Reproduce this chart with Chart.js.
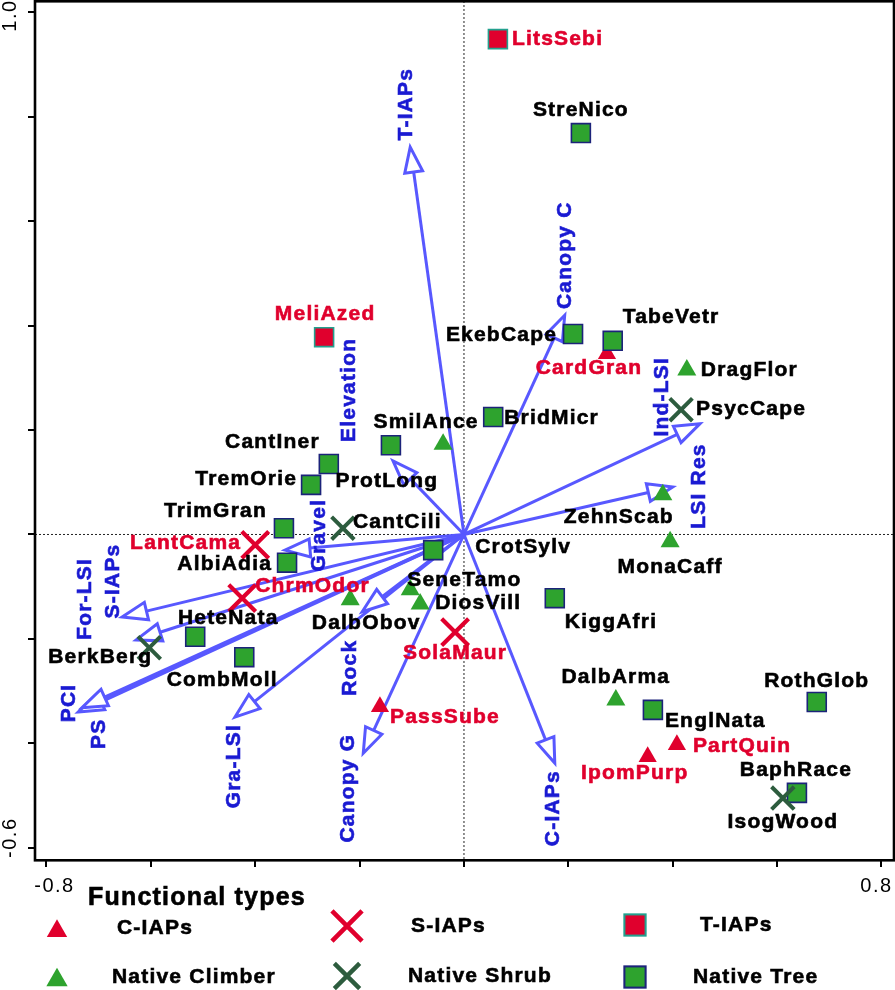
<!DOCTYPE html>
<html>
<head>
<meta charset="utf-8">
<script src="https://cdn.jsdelivr.net/npm/chart.js@4.4.1/dist/chart.umd.min.js"></script>
<style>
  html, body { margin: 0; padding: 0; background: #fff; }
  #box { width: 895px; height: 990px; position: relative; }
</style>
</head>
<body>
<div id="box"><canvas id="graf"></canvas></div>
<script>
// Species scores
const speciesNames = [
  'LitsSebi', 'MeliAzed',
  'StreNico', 'EkebCape', 'TabeVetr', 'BridMicr', 'ProtLong', 'CantIner', 'TremOrie', 'TrimGran',
  'AlbiAdia', 'CrotSylv', 'HeteNata', 'CombMoll', 'KiggAfri', 'EnglNata', 'RothGlob', 'BaphRace',
  'CantCili', 'BerkBerg', 'PsycCape', 'IsogWood',
  'SmilAnce', 'DragFlor', 'ZehnScab', 'MonaCaff', 'SeneTamo', 'DiosVill', 'DalbObov', 'DalbArma',
  'CardGran', 'PassSube', 'IpomPurp', 'PartQuin',
  'LantCama', 'ChrmOdor', 'SolaMaur'
];
const speciesType = [
  'T-IAPs', 'T-IAPs',
  'Native Tree', 'Native Tree', 'Native Tree', 'Native Tree', 'Native Tree', 'Native Tree', 'Native Tree', 'Native Tree',
  'Native Tree', 'Native Tree', 'Native Tree', 'Native Tree', 'Native Tree', 'Native Tree', 'Native Tree', 'Native Tree',
  'Native Shrub', 'Native Shrub', 'Native Shrub', 'Native Shrub',
  'Native Climber', 'Native Climber', 'Native Climber', 'Native Climber', 'Native Climber', 'Native Climber', 'Native Climber', 'Native Climber',
  'C-IAPs', 'C-IAPs', 'C-IAPs', 'C-IAPs',
  'S-IAPs', 'S-IAPs', 'S-IAPs'
];
const speciesX = [
  0.065, -0.268,
  0.224, 0.209, 0.285, 0.056, -0.140, -0.259, -0.293, -0.345,
  -0.339, -0.059, -0.515, -0.421, 0.174, 0.362, 0.676, 0.638,
  -0.232, -0.603, 0.416, 0.611,
  -0.040, 0.427, 0.381, 0.395, -0.103, -0.084, -0.218, 0.291,
  0.274, -0.161, 0.352, 0.408,
  -0.400, -0.425, -0.017
];
const speciesY = [
  0.949, 0.378,
  0.769, 0.384, 0.371, 0.225, 0.171, 0.135, 0.095, 0.012,
  -0.054, -0.030, -0.196, -0.235, -0.122, -0.336, -0.321, -0.495,
  0.012, -0.217, 0.239, -0.505,
  0.173, 0.315, 0.076, -0.014, -0.106, -0.133, -0.125, -0.317,
  0.346, -0.330, -0.426, -0.403,
  -0.020, -0.122, -0.187
];

// Environmental / trait vectors
const envNames = ['T-IAPs', 'Canopy C', 'Ind-LSI', 'LSI Res', 'Elevation', 'Gravel', 'S-IAPs', 'For-LSI',
  'PCI', 'PS', 'Gra-LSI', 'Rock', 'Canopy G', 'C-IAPs'];
const envX = [-0.103, 0.193, 0.452, 0.400, -0.136, -0.343, -0.655, -0.628, -0.739, -0.732, -0.439, -0.195, -0.193, 0.174];
const envY = [0.742, 0.420, 0.212, 0.091, 0.141, -0.030, -0.158, -0.202, -0.340, -0.332, -0.350, -0.148, -0.419, -0.438];

const typeNames = ['C-IAPs', 'S-IAPs', 'T-IAPs', 'Native Climber', 'Native Shrub', 'Native Tree'];
const xTickLabels = [-0.8, 0.8];
const yTickLabels = [1.0, -0.6];

// Colours and marker styles
const RED = '#e0002d';
const GREEN = '#2ea32e';
const DKGREEN = '#2d5c3e';
const NAVY = '#1c237a';
const TEAL = '#23a08e';
const ARROW = '#5858ff';
const ARROW_TXT = '#1a1ad2';
const FONT = '"Liberation Sans", Arial, sans-serif';

const typeStyle = {
  'C-IAPs':         { pointStyle: 'triangle', radius: 10.5, bg: RED,   border: RED,     bw: 0,   text: RED },
  'S-IAPs':         { pointStyle: 'crossRot', radius: 19,   bg: RED,   border: RED,     bw: 4.2, text: RED },
  'T-IAPs':         { pointStyle: 'rect',     radius: 13.4, bg: RED,   border: TEAL,    bw: 1.6, text: RED },
  'Native Climber': { pointStyle: 'triangle', radius: 11,   bg: GREEN, border: GREEN,   bw: 0,   text: '#000' },
  'Native Shrub':   { pointStyle: 'crossRot', radius: 16,   bg: DKGREEN, border: DKGREEN, bw: 4,   text: '#000' },
  'Native Tree':    { pointStyle: 'rect',     radius: 13.4, bg: GREEN, border: NAVY,    bw: 1.6, text: '#000' }
};

// label placement [dx, dy, align] in pixels from the marker
const labelPos = {
  LitsSebi: [14, 0, 'left'], MeliAzed: [1, -23, 'center'], StreNico: [0, -23, 'center'],
  EkebCape: [-16, 1, 'right'], TabeVetr: [10, -24, 'left'], CardGran: [-18, 14, 'center'],
  DragFlor: [14, 0, 'left'], PsycCape: [15, -1, 'left'], BridMicr: [11, 1, 'left'],
  SmilAnce: [-17, -22, 'center'], ProtLong: [-4, 36, 'center'], CantIner: [-9, -22, 'right'],
  TremOrie: [-14, -6, 'right'], TrimGran: [-17, -17, 'right'], CantCili: [10, -6, 'left'],
  LantCama: [-14, -2, 'right'], AlbiAdia: [-15, 2, 'right'], CrotSylv: [42, -3, 'left'],
  ChrmOdor: [13, -12, 'left'], SeneTamo: [-3, -10, 'left'], DiosVill: [15, -1, 'left'],
  DalbObov: [16, 23, 'center'], SolaMaur: [0, 21, 'center'], HeteNata: [33, -19, 'center'],
  BerkBerg: [3, 9, 'right'], CombMoll: [-22, 23, 'center'], KiggAfri: [10, 24, 'left'],
  MonaCaff: [0, 25, 'center'], ZehnScab: [-44, 22, 'center'], PassSube: [10, 10, 'left'],
  DalbArma: [0, -23, 'center'], EnglNata: [12, 11, 'left'], PartQuin: [16, 1, 'left'],
  IpomPurp: [-13, 16, 'center'], RothGlob: [0, -21, 'center'], BaphRace: [-1, -23, 'center'],
  IsogWood: [0, 24, 'center']
};
// rotated arrow labels, centre offset from arrow tip
const envLabelPos = {
  'T-IAPs': [-4, -43], 'Canopy C': [1, -60], 'Ind-LSI': [-38, -27], 'LSI Res': [26, -1],
  'Elevation': [-44, -71], 'Gravel': [34, -15], 'S-IAPs': [-9, -36], 'For-LSI': [-51, -41],
  'PCI': [-9, -9], 'PS': [17, 26], 'Gra-LSI': [-1, 49], 'Rock': [-12, 56],
  'Canopy G': [-15, 35], 'C-IAPs': [-2, 45]
};
// legend entries: marker x, text x, row y
const legendPos = {
  'C-IAPs': [57, 117, 928], 'S-IAPs': [347, 411, 926], 'T-IAPs': [635, 700, 925],
  'Native Climber': [57, 112, 977], 'Native Shrub': [347, 408, 976], 'Native Tree': [635, 693, 977]
};

// drawing order: first dataset ends up on top
const drawOrder = ['S-IAPs', 'Native Shrub', 'T-IAPs', 'Native Tree', 'C-IAPs', 'Native Climber'];
const datasets = drawOrder.map(t => {
  const st = typeStyle[t];
  const pts = [];
  speciesNames.forEach((n, i) => {
    if (speciesType[i] === t) pts.push({ x: speciesX[i], y: speciesY[i], name: n });
  });
  return {
    label: t,
    data: pts,
    pointStyle: st.pointStyle,
    pointRadius: st.radius,
    pointBackgroundColor: st.bg,
    pointBorderColor: st.border,
    pointBorderWidth: st.bw,
    clip: false
  };
});

function setFont(ctx, size, bold, spacing) {
  ctx.font = (bold ? 'bold ' : '') + size + 'px ' + FONT;
  ctx.letterSpacing = (spacing || 0) + 'px';
}

// bold text with a thin outline so it reads as heavy as the original
function heavyText(ctx, txt, x, y) {
  ctx.strokeStyle = ctx.fillStyle;
  ctx.lineWidth = 0.6;
  ctx.fillText(txt, x, y);
  ctx.strokeText(txt, x, y);
}

function drawArrow(ctx, x0, y0, x1, y1, lw) {
  const a = Math.atan2(y1 - y0, x1 - x0);
  const L = 25, W = 9;
  const bx = x1 - L * Math.cos(a), by = y1 - L * Math.sin(a);
  ctx.strokeStyle = ARROW;
  ctx.lineWidth = lw;
  ctx.beginPath();
  ctx.moveTo(x0, y0);
  ctx.lineTo(bx, by);
  ctx.stroke();
  ctx.beginPath();
  ctx.moveTo(x1, y1);
  ctx.lineTo(bx + W * Math.sin(a), by - W * Math.cos(a));
  ctx.lineTo(bx - W * Math.sin(a), by + W * Math.cos(a));
  ctx.closePath();
  ctx.fillStyle = '#fff';
  ctx.fill();
  ctx.lineWidth = 3;
  ctx.stroke();
}

function drawMarker(ctx, type, x, y, scale) {
  const st = typeStyle[type];
  const r = st.radius * scale;
  ctx.save();
  if (st.pointStyle === 'triangle') {
    ctx.beginPath();
    ctx.moveTo(x, y - r);
    ctx.lineTo(x + r * 0.866, y + r / 2);
    ctx.lineTo(x - r * 0.866, y + r / 2);
    ctx.closePath();
    ctx.fillStyle = st.bg;
    ctx.fill();
  } else if (st.pointStyle === 'rect') {
    const s = r * Math.SQRT1_2;
    ctx.fillStyle = st.bg;
    ctx.fillRect(x - s, y - s, 2 * s, 2 * s);
    ctx.strokeStyle = st.border;
    ctx.lineWidth = st.bw * 1.3;
    ctx.strokeRect(x - s, y - s, 2 * s, 2 * s);
  } else {
    const o = r * Math.SQRT1_2;
    ctx.strokeStyle = st.border;
    ctx.lineWidth = st.bw * 1.1;
    ctx.beginPath();
    ctx.moveTo(x - o, y - o); ctx.lineTo(x + o, y + o);
    ctx.moveTo(x + o, y - o); ctx.lineTo(x - o, y + o);
    ctx.stroke();
  }
  ctx.restore();
}

const biplotPlugin = {
  id: 'biplot',
  beforeDatasetsDraw(chart) {
    const ctx = chart.ctx, a = chart.chartArea;
    const xs = chart.scales.x, ys = chart.scales.y;
    const x0 = xs.getPixelForValue(0), y0 = ys.getPixelForValue(0);
    ctx.save();
    // dotted zero lines
    ctx.strokeStyle = '#222';
    ctx.lineWidth = 1;
    ctx.setLineDash([2, 2]);
    ctx.beginPath();
    ctx.moveTo(x0, a.top); ctx.lineTo(x0, a.bottom);
    ctx.moveTo(a.left, y0); ctx.lineTo(a.right, y0);
    ctx.stroke();
    ctx.setLineDash([]);
    // vectors
    ctx.lineJoin = 'miter';
    envNames.forEach((n, i) => {
      const lw = (n === 'PS' || n === 'PCI') ? 3.6 : 3;
      drawArrow(ctx, x0, y0, xs.getPixelForValue(envX[i]), ys.getPixelForValue(envY[i]), lw);
    });
    ctx.restore();
  },
  afterDatasetsDraw(chart) {
    const ctx = chart.ctx;
    const xs = chart.scales.x, ys = chart.scales.y;
    ctx.save();
    // vector labels
    setFont(ctx, 21, true, 1.2);
    ctx.fillStyle = ARROW_TXT;
    ctx.textAlign = 'center';
    ctx.textBaseline = 'middle';
    envNames.forEach((n, i) => {
      const off = envLabelPos[n];
      ctx.save();
      ctx.translate(xs.getPixelForValue(envX[i]) + off[0], ys.getPixelForValue(envY[i]) + off[1]);
      ctx.rotate(-Math.PI / 2);
      heavyText(ctx, n, 0, 0);
      ctx.restore();
    });
    // species labels
    speciesNames.forEach((n, i) => {
      const p = labelPos[n];
      ctx.fillStyle = typeStyle[speciesType[i]].text;
      ctx.textAlign = p[2];
      heavyText(ctx, n, xs.getPixelForValue(speciesX[i]) + p[0], ys.getPixelForValue(speciesY[i]) + p[1]);
    });
    ctx.restore();
  },
  afterDraw(chart) {
    const ctx = chart.ctx, a = chart.chartArea;
    const xs = chart.scales.x, ys = chart.scales.y;
    ctx.save();
    // frame
    ctx.strokeStyle = '#000';
    ctx.lineWidth = 2.6;
    ctx.strokeRect(a.left, a.top + 0.3, a.right - a.left, a.bottom - a.top);
    // tick labels
    setFont(ctx, 20, false, 1.5);
    ctx.fillStyle = '#000';
    ctx.textBaseline = 'middle';
    ctx.textAlign = 'center';
    const xOff = [8, -5];
    xTickLabels.forEach((v, i) => {
      ctx.fillText(v.toFixed(1), xs.getPixelForValue(v) + xOff[i], 886);
    });
    const yOff = [3, -10];
    yTickLabels.forEach((v, i) => {
      ctx.save();
      ctx.translate(10, ys.getPixelForValue(v) + yOff[i]);
      ctx.rotate(-Math.PI / 2);
      ctx.fillText(v.toFixed(1), 0, 0);
      ctx.restore();
    });
    // legend
    setFont(ctx, 25, true, 1.2);
    ctx.textAlign = 'left';
    ctx.textBaseline = 'alphabetic';
    heavyText(ctx, 'Functional types', 88, 905);
    setFont(ctx, 21, true, 1.2);
    ctx.textBaseline = 'middle';
    typeNames.forEach(t => {
      const p = legendPos[t];
      drawMarker(ctx, t, p[0], p[2] + (typeStyle[t].pointStyle === 'triangle' ? 3 : 0), 1.12);
      ctx.fillStyle = '#000';
      heavyText(ctx, t, p[1], p[2]);
    });
    ctx.restore();
  }
};

const grafico = document.getElementById('graf');
const chart = new Chart(grafico, {
  type: 'scatter',
  data: { datasets: datasets },
  plugins: [biplotPlugin],
  options: {
    responsive: true,
    maintainAspectRatio: false,
    animation: false,
    events: [],
    layout: { autoPadding: false, padding: { top: 1, right: 1, left: 0, bottom: 0 } },
    plugins: {
      legend: { display: false },
      tooltip: { enabled: false }
    },
    scales: {
      x: {
        type: 'linear',
        min: -0.822,
        max: 0.824,
        ticks: { stepSize: 0.2, display: false, includeBounds: false },
        grid: { drawOnChartArea: false, drawTicks: true, tickLength: 7, color: '#000', lineWidth: 2 },
        border: { display: false },
        afterFit: function(s) { s.height = 130; }
      },
      y: {
        type: 'linear',
        min: -0.6236,
        max: 1.022,
        ticks: { stepSize: 0.2, display: false, includeBounds: false },
        grid: { drawOnChartArea: false, drawTicks: true, tickLength: 7, color: '#000', lineWidth: 2 },
        border: { display: false },
        afterFit: function(s) { s.width = 35; }
      }
    }
  }
});
</script>
</body>
</html>
